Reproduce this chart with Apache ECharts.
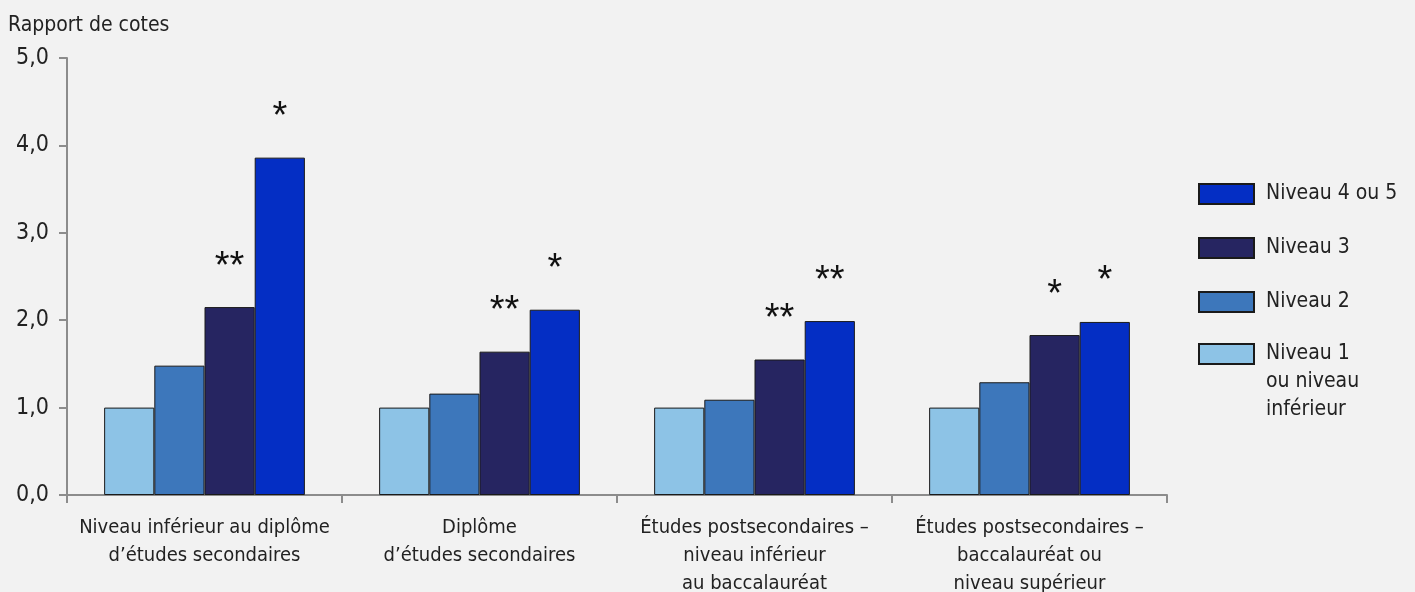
<!DOCTYPE html>
<html>
<head>
<meta charset="utf-8">
<script src="https://cdn.jsdelivr.net/npm/echarts@6/dist/echarts.min.js"></script>
<style>
html,body{margin:0;padding:0;background:#F2F2F2;}
#c{width:1415px;height:592px;}
</style>
</head>
<body>
<div id="c"></div>
<script>
var categories = [
  "Niveau inférieur au diplôme\nd’études secondaires",
  "Diplôme\nd’études secondaires",
  "Études postsecondaires –\nniveau inférieur\nau baccalauréat",
  "Études postsecondaires –\nbaccalauréat ou\nniveau supérieur"
];
var seriesNames = ["Niveau 1 ou niveau inférieur", "Niveau 2", "Niveau 3", "Niveau 4 ou 5"];
var niveau1 = [1.0, 1.0, 1.0, 1.0];
var niveau2 = [1.48, 1.16, 1.09, 1.29];
var niveau3 = [2.15, 1.64, 1.55, 1.83];
var niveau45 = [3.86, 2.12, 1.99, 1.98];
var marks1 = ["", "", "", ""];
var marks2 = ["", "", "", ""];
var marks3 = ["**", "**", "**", "*"];
var marks45 = ["*", "*", "**", "*"];
var yTicks = [0, 1, 2, 3, 4, 5];

var colors = ["#8DC3E6", "#3D77BB", "#262561", "#042EC4"];
var FONT = "'Liberation Sans Narrow', 'DejaVu Sans Condensed', sans-serif";
var values = [niveau1, niveau2, niveau3, niveau45];
var marks = [marks1, marks2, marks3, marks45];

var chart = echarts.init(document.getElementById('c'), null, {renderer: 'canvas'});
var series = values.map(function (v, i) {
  return {
    name: seriesNames[i],
    type: 'bar',
    data: v,
    barGap: '0%',
    barCategoryGap: '27%',
    itemStyle: {color: colors[i], borderColor: '#1a1a1a', borderWidth: 1},
    label: {
      show: true,
      position: 'top',
      distance: 21,
      fontFamily: 'Liberation Sans',
      fontSize: 38,
      color: '#111',
      formatter: function (p) { return marks[i][p.dataIndex]; }
    },
    emphasis: {disabled: true},
    animation: false
  };
});

chart.setOption({
  backgroundColor: '#F2F2F2',
  animation: false,
  textStyle: {fontFamily: FONT},
  title: {
    text: 'Rapport de cotes',
    left: 8, top: 15, padding: 0,
    textStyle: {fontFamily: FONT, fontSize: 21, fontWeight: 'normal', color: '#222'}
  },
  legend: [{
    data: [seriesNames[3], seriesNames[2], seriesNames[1]],
    orient: 'vertical',
    left: 1198, top: 183, padding: 0,
    icon: 'rect',
    itemWidth: 55, itemHeight: 20, itemGap: 32,
    textStyle: {fontFamily: FONT, fontSize: 21, color: '#222', lineHeight: 22, padding: [0, 0, 0, 7]},
    selectedMode: false
  }, {
    data: [seriesNames[0]],
    orient: 'vertical',
    left: 1198, top: 284, padding: 0,
    icon: 'rect',
    itemWidth: 55, itemHeight: 20,
    formatter: function () { return "\n\nNiveau 1\nou niveau\ninférieur"; },
    textStyle: {fontFamily: FONT, fontSize: 21, color: '#222', lineHeight: 28, padding: [0, 0, 0, 7]},
    selectedMode: false
  }],
  grid: {left: 67, right: 248, top: 58, bottom: 97, containLabel: false, outerBoundsMode: 'none'},
  xAxis: {
    type: 'category',
    data: categories,
    axisLine: {lineStyle: {color: '#8c8c8c', width: 2}},
    axisTick: {show: true, length: 8, lineStyle: {color: '#8c8c8c', width: 2}},
    axisLabel: {fontFamily: FONT, fontSize: 20, color: '#222', lineHeight: 28, margin: 19, interval: 0}
  },
  yAxis: {
    type: 'value',
    min: yTicks[0], max: yTicks[yTicks.length - 1], interval: 1,
    axisLine: {show: true, lineStyle: {color: '#8c8c8c', width: 2}},
    axisTick: {show: true, length: 8, lineStyle: {color: '#8c8c8c', width: 2}},
    splitLine: {show: false},
    axisLabel: {
      fontFamily: FONT, fontSize: 23, color: '#222', margin: 18,
      formatter: function (v) { return v.toFixed(1).replace('.', ','); }
    }
  },
  series: series
});
</script>
</body>
</html>
